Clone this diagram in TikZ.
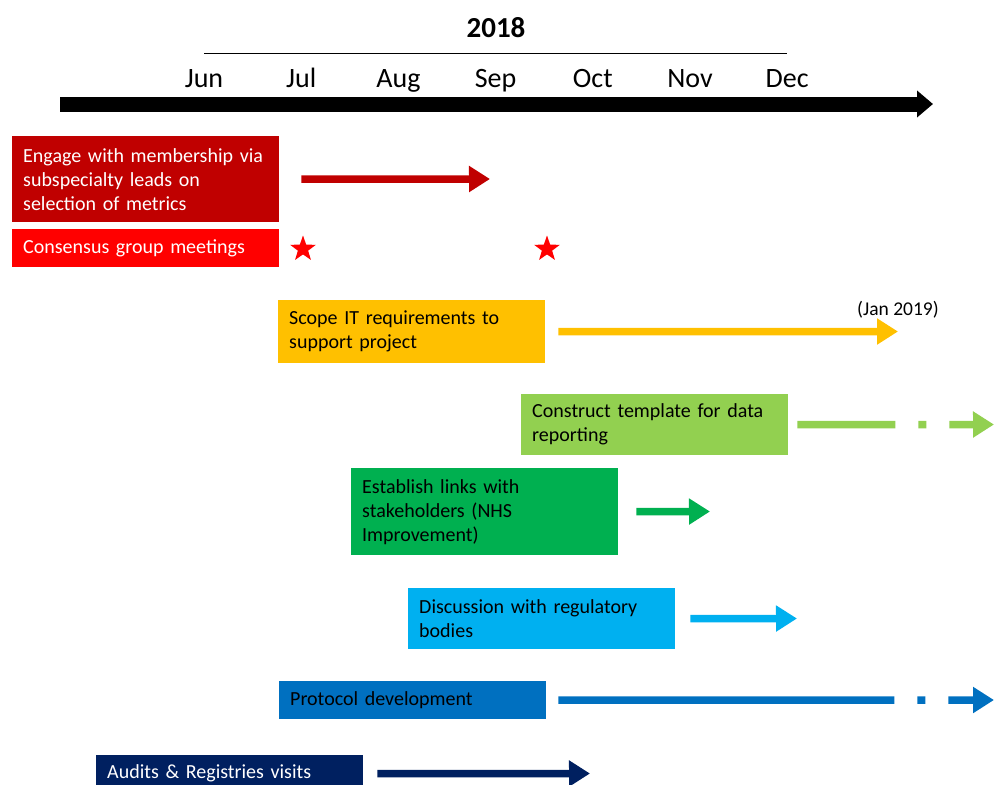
\documentclass[tikz,border=0pt]{standalone}
\usepackage{fontspec}
\setmainfont{Carlito}
\usetikzlibrary{arrows.meta,positioning,shapes.geometric}
\definecolor{planDarkRed}{HTML}{C00000}
\definecolor{planRed}{HTML}{FF0000}
\definecolor{planYellow}{HTML}{FFC000}
\definecolor{planLime}{HTML}{92D050}
\definecolor{planGreen}{HTML}{00B050}
\definecolor{planSky}{HTML}{00B0F0}
\definecolor{planBlue}{HTML}{0070C0}
\definecolor{planNavy}{HTML}{002060}
\tikzset{
  task/.style={rectangle, anchor=north west, fill=#1, inner xsep=11pt, inner ysep=0pt,
    align=left, text width=245pt, font=\fontsize{20}{24}\selectfont},
  span/.style={draw=#1, line width=7.5pt, -{Triangle[length=21pt,width=25pt]}},
  month/.style={anchor=base, font=\fontsize{28}{32}\selectfont},
  starmark/.style={star, star points=5, star point ratio=2.5, fill=planRed, draw=none,
    minimum size=27pt, inner sep=0pt},
}
\begin{document}
\begin{tikzpicture}[x=1pt, y=-1pt]
\useasboundingbox (0,0) rectangle (994,785);
% header
\node[anchor=base, font=\bfseries\fontsize{29}{34}\selectfont] (year) at (496,37) {2018};
\foreach \m [count=\i from 0] in {Jun,Jul,Aug,Sep,Oct,Nov,Dec}
  \node[month] (m\i) at ({204+97.2*\i},87) {\m};
\coordinate (rule) at (496,53);
\draw[line width=1pt] (m0 |- rule) -- (m6 |- rule);
\coordinate (tStart) at (60,104);
\coordinate (tEnd) at (933,104);
\draw[line width=15pt, -{Triangle[length=16pt,width=26pt]}] (tStart) -- (tEnd);

% tasks
\node[task=planDarkRed, text=white, minimum height=86pt] (engage) at (12,136)
  {Engage with membership via\\subspecialty leads on\\selection of metrics};
\node[task=planRed, text=white, minimum height=38pt] (consensus) at (12,229)
  {Consensus group meetings};
\node[task=planYellow, minimum height=63pt] (scope) at (278,300)
  {Scope IT requirements to\\support project};
\node[task=planLime, minimum height=61pt] (construct) at (521,394)
  {Construct template for data\\reporting};
\node[task=planGreen, minimum height=87pt] (establish) at (351,468)
  {Establish links with\\stakeholders (NHS\\Improvement)};
\node[task=planSky, minimum height=61pt] (discussion) at (408,588)
  {Discussion with regulatory\\bodies};
\node[task=planBlue, minimum height=38pt] (protocol) at (279,681)
  {Protocol development};
\node[task=planNavy, text=white, minimum height=37pt] (audits) at (96,755)
  {Audits \& Registries visits};

% meetings
\node[starmark] (star1) at (303,249) {};
\node[starmark] (star2) at (547,249) {};

% spans
\coordinate (engageEnd) at (490,179);
\coordinate (scopeEnd) at (898,331.5);
\coordinate (constructEnd) at (994,424.5);
\coordinate (establishEnd) at (710,511.5);
\coordinate (discussionEnd) at (797,618.5);
\coordinate (protocolEnd) at (994,700);
\coordinate (auditsEnd) at (590,773.5);
\draw[span=planDarkRed] ([xshift=22pt]engage.east) -- (engageEnd);
\draw[span=planYellow] ([xshift=13pt]scope.east) -- (scopeEnd);
\draw[span=planLime, dash pattern=on 98pt off 23pt on 8pt off 23pt on 80pt]
  ([xshift=9pt]construct.east) -- (constructEnd);
\draw[span=planGreen] ([xshift=18pt]establish.east) -- (establishEnd);
\draw[span=planSky] ([xshift=15pt]discussion.east) -- (discussionEnd);
\draw[span=planBlue, dash pattern=on 336pt off 23pt on 8pt off 23pt on 80pt]
  ([xshift=12pt]protocol.east) -- (protocolEnd);
\draw[span=planNavy] ([xshift=14pt]audits.east) -- (auditsEnd);
\node[font=\fontsize{19.5}{23}\selectfont] (janNote) at (898,310) {(Jan 2019)};
\end{tikzpicture}
\end{document}
